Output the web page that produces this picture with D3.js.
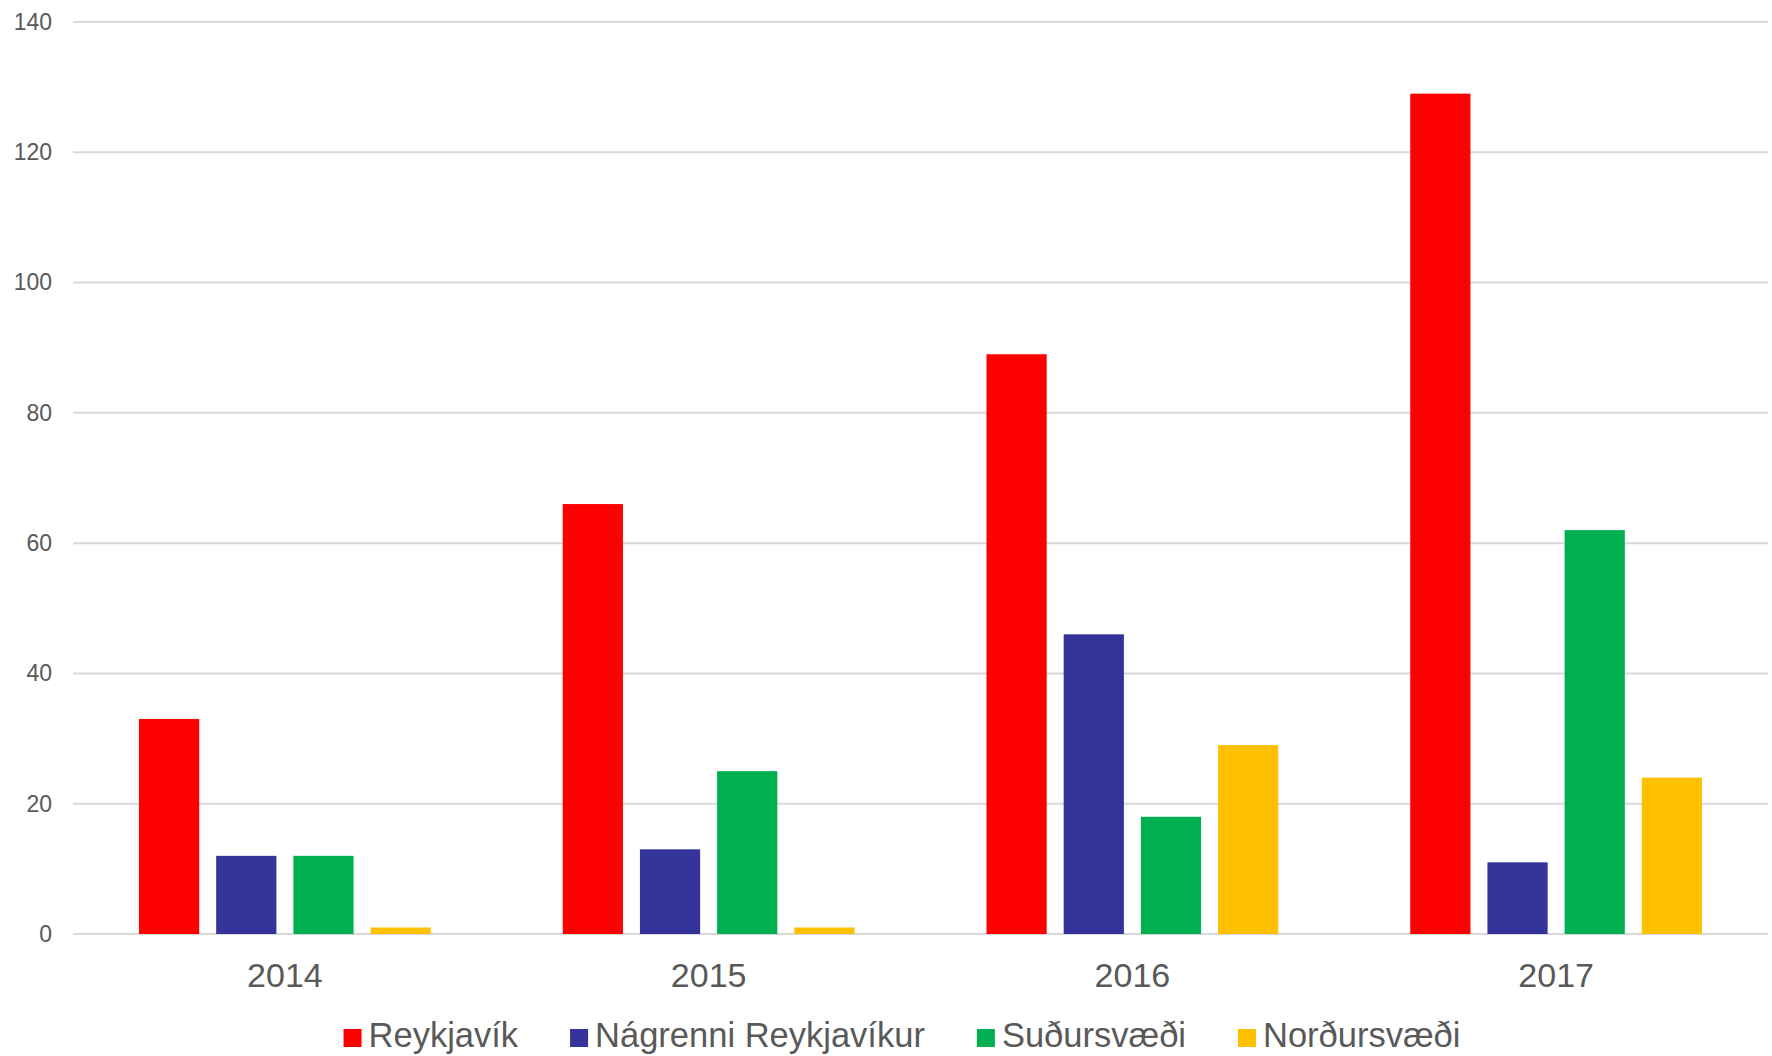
<!DOCTYPE html>
<html>
<head>
<meta charset="utf-8">
<script src="https://cdn.jsdelivr.net/npm/d3@7"></script>
<style>
  body { margin: 0; background: #fff; }
  text { font-family: "Liberation Sans", Arial, sans-serif; fill: #595959; }
</style>
</head>
<body>
<svg id="chart"></svg>
<script>
var width = 1772;
var height = 1056;

var years = ["2014", "2015", "2016", "2017"];
var regions = ["Reykjavík", "Nágrenni Reykjavíkur", "Suðursvæði", "Norðursvæði"];
var colors = ["#FF0000", "#333399", "#00B050", "#FFC000"];
var reykjavik = [33, 66, 89, 129];
var nagrenni = [12, 13, 46, 11];
var sudursvaedi = [12, 25, 18, 62];
var nordursvaedi = [1, 1, 29, 24];
var yTicks = [0, 20, 40, 60, 80, 100, 120, 140];

var seriesValues = [reykjavik, nagrenni, sudursvaedi, nordursvaedi];

var plotLeft = 73, plotRight = 1768, plotTop = 22, plotBottom = 934;

var svg = d3.select("#chart")
            .attr("width", width)
            .attr("height", height);

var x0 = d3.scaleBand()
           .domain(years)
           .range([plotLeft, plotRight])
           .padding(0);

var inner = 66;
var x1 = d3.scaleBand()
           .domain(regions)
           .range([inner, x0.bandwidth() - inner])
           .paddingInner(0.22)
           .paddingOuter(0);

var y = d3.scaleLinear()
          .domain([0, 140])
          .range([plotBottom, plotTop]);

var color = d3.scaleOrdinal().domain(regions).range(colors);

// gridlines
svg.append("g")
   .selectAll("line")
   .data(yTicks)
   .enter()
   .append("line")
     .attr("x1", plotLeft)
     .attr("x2", plotRight)
     .attr("y1", d => y(d))
     .attr("y2", d => y(d))
     .attr("stroke", "#D9D9D9")
     .attr("stroke-width", 2);

// y axis labels
var yAxis = d3.axisLeft(y)
              .tickValues(yTicks)
              .tickSize(0)
              .tickPadding(0);

var gy = svg.append("g")
            .attr("transform", "translate(52,0)")
            .call(yAxis);
gy.select(".domain").remove();
gy.selectAll("text")
  .attr("font-size", 23)
  .attr("fill", "#595959")
  .attr("font-family", "Liberation Sans, Arial, sans-serif");

// bars
var data = [];
years.forEach(function (yr, i) {
  regions.forEach(function (r, j) {
    data.push({ year: yr, region: r, value: seriesValues[j][i] });
  });
});

svg.append("g")
   .selectAll("rect")
   .data(data)
   .enter()
   .append("rect")
     .attr("x", d => x0(d.year) + x1(d.region))
     .attr("y", d => y(d.value))
     .attr("width", x1.bandwidth())
     .attr("height", d => y(0) - y(d.value))
     .attr("fill", d => color(d.region));

// x axis labels
var xAxis = d3.axisBottom(x0)
              .tickSize(0)
              .tickPadding(0);

var gx = svg.append("g")
            .attr("transform", "translate(0," + plotBottom + ")")
            .call(xAxis);
gx.select(".domain").remove();
gx.selectAll("text")
  .attr("font-size", 34)
  .attr("fill", "#595959")
  .attr("font-family", "Liberation Sans, Arial, sans-serif")
  .attr("dy", null)
  .attr("y", 53);

// legend
var legend = svg.append("g");
var items = legend.selectAll("g")
                  .data(regions)
                  .enter()
                  .append("g");

items.append("rect")
     .attr("width", 18)
     .attr("height", 18)
     .attr("y", -18)
     .attr("fill", d => color(d));

items.append("text")
     .attr("x", 25)
     .attr("font-size", 34.5)
     .text(d => d);

var gap = 52;
var pos = 0;
items.each(function () {
  var g = d3.select(this);
  var w = 25 + g.select("text").node().getComputedTextLength();
  g.attr("transform", "translate(" + pos + ",1047)");
  pos += w + gap;
});
var total = pos - gap;
legend.attr("transform", "translate(" + (902 - total / 2) + ",0)");
</script>
</body>
</html>
